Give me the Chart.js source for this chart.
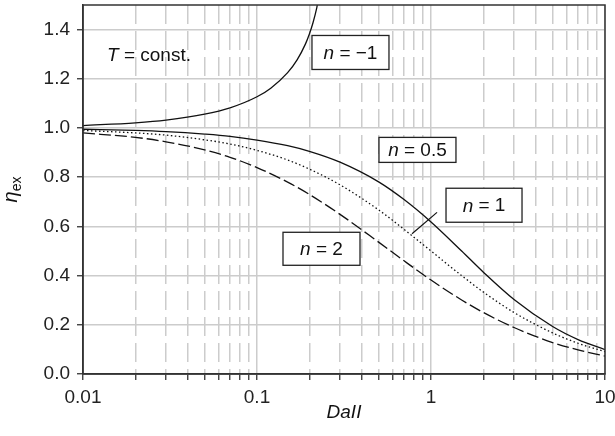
<!DOCTYPE html>
<html>
<head>
<meta charset="utf-8">
<script src="https://cdn.jsdelivr.net/npm/chart.js@4"></script>
<style>
  html, body { margin: 0; padding: 0; background: #fff; }
  #wrap { width: 615px; height: 436px; }
</style>
</head>
<body>
<div id="wrap"><canvas id="myChart" width="615" height="436"></canvas></div>
<script>
// Damkoehler numbers (x) and external effectiveness factors
const daValues = [0.01, 0.02, 0.03, 0.05, 0.07, 0.1, 0.15, 0.2, 0.3, 0.5, 0.7, 1, 1.5, 2, 3, 5, 7, 10];
const etaHalf = [0.995, 0.990, 0.985, 0.975, 0.966, 0.951, 0.928, 0.905, 0.861, 0.781, 0.709, 0.618, 0.500, 0.414, 0.303, 0.193, 0.140, 0.099];
const etaOne = [0.990, 0.980, 0.971, 0.952, 0.935, 0.909, 0.870, 0.833, 0.769, 0.667, 0.588, 0.500, 0.400, 0.333, 0.250, 0.167, 0.125, 0.091];
const etaTwo = [0.980, 0.962, 0.944, 0.911, 0.881, 0.839, 0.780, 0.730, 0.649, 0.536, 0.460, 0.382, 0.301, 0.250, 0.189, 0.128, 0.098, 0.073];
const daMinusOne = [0.01, 0.02, 0.03, 0.05, 0.07, 0.1, 0.12, 0.15, 0.17, 0.19, 0.2, 0.21, 0.22, 0.222];
const etaMinusOne = [1.010, 1.021, 1.032, 1.056, 1.082, 1.127, 1.162, 1.225, 1.277, 1.342, 1.382, 1.429, 1.485, 1.500];

const xTicks = [0.01, 0.02, 0.03, 0.04, 0.05, 0.06, 0.07, 0.08, 0.09,
                0.1, 0.2, 0.3, 0.4, 0.5, 0.6, 0.7, 0.8, 0.9,
                1, 2, 3, 4, 5, 6, 7, 8, 9, 10];
const xTickLabels = ['0.01', '0.1', '1', '10'];
const yTicks = [0, 0.2, 0.4, 0.6, 0.8, 1.0, 1.2, 1.4];

const FONT = "'Liberation Sans', Arial, Helvetica, sans-serif";

const isDecade = (v) => Math.abs(Math.log10(v) - Math.round(Math.log10(v))) < 1e-6;
const pts = (xs, ys) => xs.map((x, i) => ({x: x, y: ys[i]}));

// boxed labels on the plot, placed in data units
const boxLabels = [
    {val: '\u2212' + '1', x: 0.3445, y: 1.307, w: 77, h: 34},
    {val: '0.5', x: 0.836, y: 0.911, w: 77, h: 25},
    {val: '1', x: 2.017, y: 0.686, w: 76, h: 34},
    {val: '2', x: 0.2348, y: 0.509, w: 77, h: 33}
];

const annotations = {
    id: 'annotations',
    afterDatasetsDraw(chart) {
        const ctx = chart.ctx;
        const xs = chart.scales.x, ys = chart.scales.y;
        const area = chart.chartArea;
        ctx.save();

        // leader line from the n = 1 box to its curve
        ctx.strokeStyle = '#111';
        ctx.lineWidth = 1.2;
        ctx.beginPath();
        ctx.moveTo(xs.getPixelForValue(1.083), ys.getPixelForValue(0.657));
        ctx.lineTo(xs.getPixelForValue(0.778), ys.getPixelForValue(0.57));
        ctx.stroke();

        // T = const.
        ctx.fillStyle = '#111';
        ctx.textBaseline = 'middle';
        ctx.textAlign = 'left';
        let tx = xs.getPixelForValue(0.01374), ty = ys.getPixelForValue(1.295);
        ctx.font = 'italic 19px ' + FONT;
        ctx.fillText('T', tx, ty);
        tx += ctx.measureText('T').width;
        ctx.font = '19px ' + FONT;
        ctx.fillText(' = const.', tx, ty);

        // boxed n labels
        boxLabels.forEach((b) => {
            const cx = xs.getPixelForValue(b.x), cy = ys.getPixelForValue(b.y);
            ctx.fillStyle = '#fff';
            ctx.fillRect(cx - b.w / 2, cy - b.h / 2, b.w, b.h);
            ctx.strokeStyle = '#222';
            ctx.lineWidth = 1.3;
            ctx.strokeRect(cx - b.w / 2, cy - b.h / 2, b.w, b.h);
            ctx.font = 'italic 19px ' + FONT;
            const w1 = ctx.measureText('n').width;
            ctx.font = '19px ' + FONT;
            const rest = ' = ' + b.val;
            const w2 = ctx.measureText(rest).width;
            let sx = cx - (w1 + w2) / 2;
            ctx.fillStyle = '#111';
            ctx.font = 'italic 19px ' + FONT;
            ctx.fillText('n', sx, cy + 1);
            ctx.font = '19px ' + FONT;
            ctx.fillText(rest, sx + w1, cy + 1);
        });

        // frame top and right
        ctx.strokeStyle = '#333';
        ctx.lineWidth = 1.5;
        ctx.strokeRect(area.left, area.top, area.right - area.left, area.bottom - area.top);

        // y axis title: eta with subscript ex
        ctx.translate(13, (area.top + area.bottom) / 2);
        ctx.rotate(-Math.PI / 2);
        ctx.textBaseline = 'alphabetic';
        ctx.font = 'italic 20px ' + FONT;
        const we = ctx.measureText('\u03b7').width;
        ctx.font = '14px ' + FONT;
        const wx = ctx.measureText('ex').width;
        const start = -(we + wx) / 2;
        ctx.fillStyle = '#111';
        ctx.font = 'italic 20px ' + FONT;
        ctx.fillText('\u03b7', start, 4);
        ctx.font = '14px ' + FONT;
        ctx.fillText('ex', start + we, 8);
        ctx.restore();
    }
};

const lineStyle = {
    borderColor: '#111',
    borderWidth: 1.3,
    pointRadius: 0,
    fill: false,
    cubicInterpolationMode: 'monotone'
};

const ctx = document.getElementById('myChart').getContext('2d');
const chart = new Chart(ctx, {
    type: 'line',
    data: {
        datasets: [
            Object.assign({label: 'n = -1', data: pts(daMinusOne, etaMinusOne)}, lineStyle),
            Object.assign({label: 'n = 0.5', data: pts(daValues, etaHalf)}, lineStyle),
            Object.assign({label: 'n = 1', data: pts(daValues, etaOne), borderDash: [1.5, 2.5]}, lineStyle),
            Object.assign({label: 'n = 2', data: pts(daValues, etaTwo), borderDash: [12, 4]}, lineStyle)
        ]
    },
    options: {
        responsive: false,
        animation: false,
        layout: { padding: { top: 5, right: 0, left: 0, bottom: 0 } },
        plugins: {
            legend: { display: false },
            tooltip: { enabled: false }
        },
        scales: {
            x: {
                type: 'logarithmic',
                min: 0.01,
                max: 10,
                afterBuildTicks: (scale) => { scale.ticks = xTicks.map((v) => ({value: v})); },
                afterFit: (scale) => {
                    scale.height = 62;
                    scale.paddingLeft = 0;
                    scale.paddingRight = 10;
                },
                ticks: {
                    autoSkip: false,
                    maxRotation: 0,
                    padding: 6,
                    color: '#222',
                    font: { family: FONT, size: 19 },
                    callback: (v) => {
                        const i = [0.01, 0.1, 1, 10].findIndex((d) => Math.abs(d - v) < 1e-9);
                        return i >= 0 ? xTickLabels[i] : '';
                    }
                },
                grid: {
                    color: '#cccccc',
                    lineWidth: 1.5,
                    tickLength: 6,
                    tickColor: '#333',
                    tickWidth: 1.3,
                    tickBorderDash: []
                },
                border: {
                    display: true,
                    color: '#333',
                    width: 1.5,
                    dash: (c) => (c.tick && !isDecade(c.tick.value)) ? [19, 7] : []
                },
                title: {
                    display: true,
                    text: 'DaII',
                    color: '#111',
                    font: { family: FONT, size: 19, style: 'italic' },
                    padding: { top: 0, bottom: 12 }
                }
            },
            y: {
                min: 0,
                max: 1.5,
                afterBuildTicks: (scale) => { scale.ticks = yTicks.map((v) => ({value: v})); },
                afterFit: (scale) => {
                    scale.width = 83;
                    scale.paddingTop = 0;
                    scale.paddingBottom = 0;
                },
                ticks: {
                    padding: 7,
                    color: '#222',
                    font: { family: FONT, size: 19 },
                    callback: (v) => Number(v).toFixed(1)
                },
                grid: {
                    color: '#cccccc',
                    lineWidth: 1.5,
                    tickLength: 6,
                    tickColor: '#333',
                    tickWidth: 1.3
                },
                border: { display: true, color: '#333', width: 1.5 }
            }
        }
    },
    plugins: [annotations]
});
</script>
</body>
</html>
